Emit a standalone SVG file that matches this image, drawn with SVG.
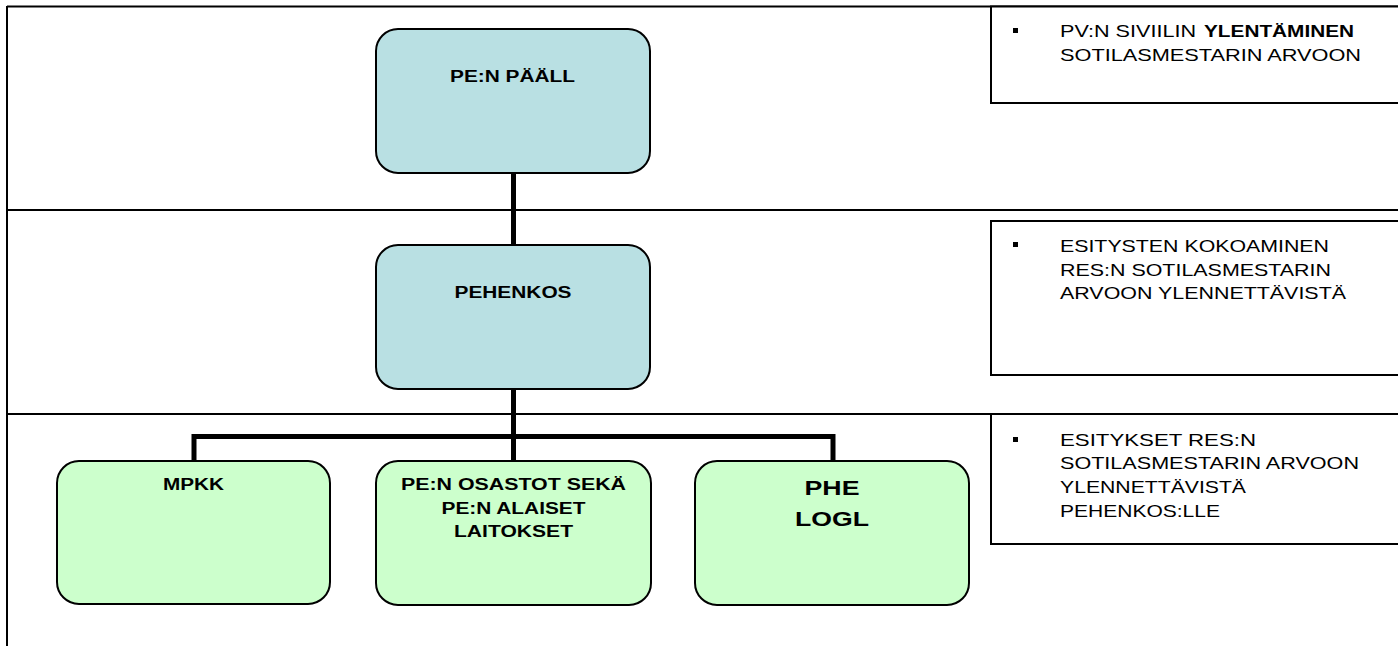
<svg xmlns="http://www.w3.org/2000/svg" width="1398" height="646" viewBox="0 0 1398 646">
<style>
.frame{stroke:#000;stroke-width:2;fill:none}
.note{fill:#fff;stroke:#000;stroke-width:2}
.blue{fill:#b9e0e3;stroke:#000;stroke-width:2}
.green{fill:#ccffcc;stroke:#000;stroke-width:2}
.conn{stroke:#000;stroke-width:5;fill:none;stroke-linecap:butt}
.nt{font-family:"Liberation Sans",Arial,sans-serif;font-weight:bold;font-size:16px;fill:#000;text-anchor:middle}
.big{font-size:21px}
.rt{font-family:"Liberation Sans",Arial,sans-serif;font-size:17px;fill:#000}
.b{font-weight:bold}
.bul{fill:#000}
</style>
<rect width="1398" height="646" fill="#fff"/>
<g id="frame">
<line class="frame" x1="7" y1="6.5" x2="1398" y2="6.5"/>
<line class="frame" x1="7" y1="6" x2="7" y2="646"/>
<line class="frame" x1="7" y1="210" x2="1398" y2="210"/>
<line class="frame" x1="7" y1="414" x2="1398" y2="414"/>
</g>
<g id="connectors">
<line class="conn" x1="513.5" y1="173" x2="513.5" y2="245"/>
<line class="conn" x1="513.5" y1="389" x2="513.5" y2="461"/>
<polyline class="conn" points="194,461 194,436.5 833,436.5 833,461"/>
</g>
<g id="note1">
<rect class="note" x="991" y="6.5" width="420" height="96.5"/>
<rect class="bul" x="1013" y="28" width="5" height="5"/>
<text class="rt" x="1060" y="37" textLength="136" lengthAdjust="spacingAndGlyphs">PV:N SIVIILIN</text>
<text class="rt b" x="1204" y="37" textLength="150" lengthAdjust="spacingAndGlyphs">YLENTÄMINEN</text>
<text class="rt" x="1060" y="60.5" textLength="301" lengthAdjust="spacingAndGlyphs">SOTILASMESTARIN ARVOON</text>
</g>
<g id="note2">
<rect class="note" x="991" y="221" width="420" height="154"/>
<rect class="bul" x="1013" y="242" width="5" height="5"/>
<text class="rt" x="1060" y="252" textLength="269" lengthAdjust="spacingAndGlyphs">ESITYSTEN KOKOAMINEN</text>
<text class="rt" x="1060" y="275.5" textLength="271" lengthAdjust="spacingAndGlyphs">RES:N SOTILASMESTARIN</text>
<text class="rt" x="1060" y="299" textLength="286" lengthAdjust="spacingAndGlyphs">ARVOON YLENNETTÄVISTÄ</text>
</g>
<g id="note3">
<rect class="note" x="991" y="414" width="420" height="130"/>
<rect class="bul" x="1013" y="437" width="5" height="5"/>
<text class="rt" x="1060" y="445.5" textLength="196" lengthAdjust="spacingAndGlyphs">ESITYKSET RES:N</text>
<text class="rt" x="1060" y="469" textLength="299" lengthAdjust="spacingAndGlyphs">SOTILASMESTARIN ARVOON</text>
<text class="rt" x="1060" y="493" textLength="186" lengthAdjust="spacingAndGlyphs">YLENNETTÄVISTÄ</text>
<text class="rt" x="1060" y="517" textLength="160" lengthAdjust="spacingAndGlyphs">PEHENKOS:LLE</text>
</g>
<g id="node-pe-paall">
<rect class="blue" x="376" y="29" width="274" height="144" rx="22" ry="22"/>
<text class="nt" x="512.5" y="81.5" textLength="125" lengthAdjust="spacingAndGlyphs">PE:N PÄÄLL</text>
</g>
<g id="node-pehenkos">
<rect class="blue" x="376" y="245" width="274" height="144" rx="22" ry="22"/>
<text class="nt" x="513" y="298" textLength="117" lengthAdjust="spacingAndGlyphs">PEHENKOS</text>
</g>
<g id="node-mpkk">
<rect class="green" x="57" y="461" width="273" height="143" rx="22" ry="22"/>
<text class="nt" x="193.5" y="490" textLength="61" lengthAdjust="spacingAndGlyphs">MPKK</text>
</g>
<g id="node-osastot">
<rect class="green" x="376" y="461" width="275" height="144" rx="22" ry="22"/>
<text class="nt" x="513.5" y="490" textLength="225" lengthAdjust="spacingAndGlyphs">PE:N OSASTOT SEKÄ</text>
<text class="nt" x="513.5" y="513.5" textLength="144" lengthAdjust="spacingAndGlyphs">PE:N ALAISET</text>
<text class="nt" x="513.5" y="537" textLength="119" lengthAdjust="spacingAndGlyphs">LAITOKSET</text>
</g>
<g id="node-phe-logl">
<rect class="green" x="695" y="461" width="274" height="144" rx="22" ry="22"/>
<text class="nt big" x="832" y="495" textLength="55" lengthAdjust="spacingAndGlyphs">PHE</text>
<text class="nt big" x="832" y="526" textLength="74" lengthAdjust="spacingAndGlyphs">LOGL</text>
</g>
</svg>
